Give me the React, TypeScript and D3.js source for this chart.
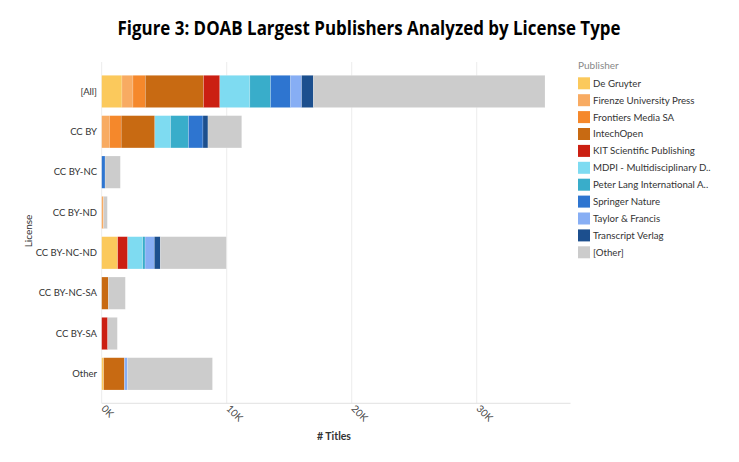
import React from 'react';
import * as d3 from 'd3';

// licence rows, top to bottom
const licenses = ['[All]', 'CC BY', 'CC BY-NC', 'CC BY-ND', 'CC BY-NC-ND', 'CC BY-NC-SA', 'CC BY-SA', 'Other'];

const publishers = [
  'De Gruyter',
  'Firenze University Press',
  'Frontiers Media SA',
  'IntechOpen',
  'KIT Scientific Publishing',
  'MDPI - Multidisciplinary D..',
  'Peter Lang International A..',
  'Springer Nature',
  'Taylor & Francis',
  'Transcript Verlag',
  '[Other]',
];

const publisherColors = [
  '#fbc95c', '#f8ab62', '#f5882b', '#c86a12', '#cb1f12',
  '#7edbf1', '#39adca', '#2e75d0', '#87aef4', '#1c4f8e', '#cccccc',
];

// # titles per licence row (same order as licenses)
const deGruyter = [1620, 0, 0, 0, 1280, 0, 0, 160];
const firenze = [880, 620, 0, 150, 0, 0, 0, 0];
const frontiers = [990, 940, 0, 0, 0, 0, 0, 0];
const intechOpen = [4660, 2690, 0, 0, 0, 530, 0, 1660];
const kit = [1300, 0, 0, 0, 800, 0, 480, 0];
const mdpi = [2400, 1260, 0, 0, 1200, 0, 0, 0];
const peterLang = [1660, 1440, 0, 0, 190, 0, 0, 0];
const springer = [1600, 1150, 270, 0, 0, 0, 0, 0];
const taylorFrancis = [880, 0, 0, 0, 740, 0, 0, 240];
const transcript = [940, 400, 0, 0, 480, 0, 0, 0];
const other = [18530, 2700, 1220, 300, 5280, 1360, 770, 6800];

const seriesValues = [deGruyter, firenze, frontiers, intechOpen, kit, mdpi, peterLang, springer, taylorFrancis, transcript, other];

const xTicks = [0, 10000, 20000, 30000];

const W = 739;
const H = 462;
const left = 101.7;
const right = 570.5;
const top = 62;
const bottom = 403.3;

const rows = licenses.map((lic, i) => {
  const row: any = { license: lic };
  publishers.forEach((p, j) => { row[p] = seriesValues[j][i]; });
  return row;
});

export default function App() {
  const x = d3.scaleLinear().domain([0, 37500]).range([left, right]);
  const y = d3.scaleBand().domain(licenses).range([top, bottom]).paddingInner(0.2).paddingOuter(0.33);
  const stack = d3.stack<any>().keys(publishers)(rows);
  const font = 'Lato, "Open Sans", sans-serif';

  return (
    <div style={{ position: 'absolute', left: 0, top: 0 }}>
      <svg width={W} height={H} style={{ display: 'block', background: '#fff' }}>
        <text x={369} y={35} textAnchor="middle" fontFamily='"Open Sans", sans-serif' fontWeight={700}
          fontSize={19} textLength={503} lengthAdjust="spacingAndGlyphs" fill="#000">
          Figure 3: DOAB Largest Publishers Analyzed by License Type
        </text>

        {/* grid */}
        {xTicks.map(t => (
          <line key={t} x1={x(t)} x2={x(t)} y1={top} y2={bottom} stroke="#ececec" strokeWidth={1} />
        ))}
        <line x1={left} x2={right} y1={bottom} y2={bottom} stroke="#e2e2e2" strokeWidth={1} />

        {/* bars */}
        {stack.map((s, j) => (
          <g key={publishers[j]} fill={publisherColors[j]}>
            {s.map((d: any, i: number) => (
              d[1] - d[0] > 0 ? (
                <rect key={i} x={x(d[0])} y={y(licenses[i])} width={x(d[1]) - x(d[0])} height={y.bandwidth()}
                  stroke="#ffffff" strokeOpacity={0.35} strokeWidth={0.5} />
              ) : null
            ))}
          </g>
        ))}

        {/* y labels */}
        {licenses.map(l => (
          <text key={l} x={97} y={(y(l) as number) + y.bandwidth() / 2} dy="0.35em" textAnchor="end"
            fontFamily={font} fontSize={9.5} fill="#333">{l}</text>
        ))}
        <text transform={`translate(32,231) rotate(-90)`} textAnchor="middle" fontFamily={font} fontSize={10} fill="#333">License</text>

        {/* x ticks */}
        {xTicks.map(t => (
          <text key={t} transform={`translate(${x(t) - 1},${bottom + 6}) rotate(45)`} fontFamily={font}
            fontSize={10} fill="#444">{d3.format('d')(t / 1000)}K</text>
        ))}
        <text x={334} y={440} textAnchor="middle" fontFamily={font} fontWeight={700} fontSize={10.5} fill="#333"># Titles</text>

        {/* legend */}
        <text x={578} y={69} fontFamily={font} fontSize={10} fill="#888">Publisher</text>
        {publishers.map((p, j) => (
          <g key={p} transform={`translate(578,${83.3 + j * 16.9})`}>
            <rect x={0} y={-6} width={12} height={12} fill={publisherColors[j]} />
            <text x={15} y={0} dy="0.35em" fontFamily={font} fontSize={9.7} fill="#333">{p}</text>
          </g>
        ))}
      </svg>
    </div>
  );
}
